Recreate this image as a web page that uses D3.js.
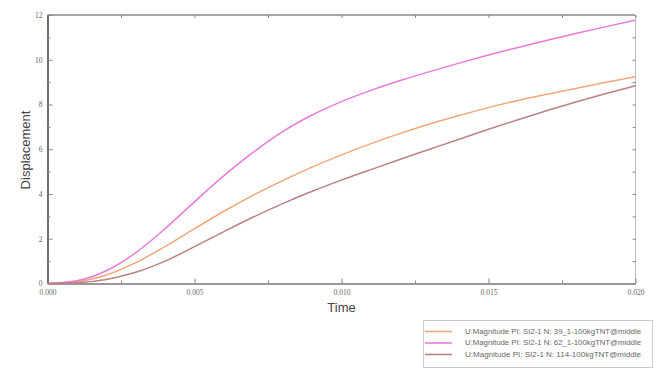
<!DOCTYPE html>
<html><head><meta charset="utf-8">
<script src="https://cdn.jsdelivr.net/npm/d3@7"></script>
<style>body{margin:0;background:#fff}svg{display:block}</style>
</head><body>
<svg id="c" width="656" height="370"></svg>
<script>
const times = [0,0.001,0.002,0.003,0.004,0.005,0.006,0.007,0.008,0.009,0.010,0.011,0.012,0.013,0.014,0.015,0.016,0.017,0.018,0.019,0.020];
const node39 = [0,0.08,0.38,0.93,1.65,2.45,3.23,3.95,4.6,5.2,5.75,6.25,6.71,7.13,7.51,7.86,8.18,8.46,8.73,8.99,9.24];
const node62 = [0,0.12,0.57,1.37,2.45,3.65,4.82,5.87,6.79,7.53,8.13,8.63,9.07,9.47,9.85,10.21,10.55,10.87,11.18,11.48,11.77];
const node114 = [0,0.03,0.18,0.5,1.0,1.65,2.32,2.97,3.57,4.12,4.62,5.09,5.55,6.0,6.45,6.89,7.32,7.73,8.12,8.49,8.84];
const seriesNames = ["U:Magnitude PI: SI2-1 N: 39_1-100kgTNT@middle","U:Magnitude PI: SI2-1 N: 62_1-100kgTNT@middle","U:Magnitude PI: SI2-1 N: 114-100kgTNT@middle"];
const colors = ["#f0a87a","#e87ad8","#b88282"];
const xTicks = [0,0.005,0.010,0.015,0.020];
const yTicks = [0,2,4,6,8,10,12];

const svg = d3.select("#c");
const L=47.5, R=635.5, T=15, B=283.5;
const x = d3.scaleLinear().domain([0,0.020]).range([L,R]);
const y = d3.scaleLinear().domain([0,12]).range([B,T]);

// frame
svg.append("line").attr("x1",L).attr("x2",R).attr("y1",T).attr("y2",T).attr("stroke","#888").attr("stroke-width",1.5);
svg.append("line").attr("x1",R).attr("x2",R).attr("y1",T).attr("y2",B).attr("stroke","#bbb").attr("stroke-width",1);

const ax = svg.append("g").attr("transform",`translate(0,${B})`)
  .call(d3.axisBottom(x).tickValues(xTicks).tickFormat(d3.format(".3f")).tickSizeInner(-5).tickSizeOuter(0).tickPadding(6));
const axm = svg.append("g").attr("transform",`translate(0,${B})`)
  .call(d3.axisBottom(x).tickValues([0.0025,0.0075,0.0125,0.0175]).tickFormat("").tickSizeInner(-3).tickSizeOuter(0));
const at = svg.append("g").attr("transform",`translate(0,${T})`)
  .call(d3.axisTop(x).tickValues(xTicks.concat([0.0025,0.0075,0.0125,0.0175])).tickFormat("").tickSizeInner(-3).tickSizeOuter(0));
const ay = svg.append("g").attr("transform",`translate(${L},0)`)
  .call(d3.axisLeft(y).tickValues(yTicks).tickFormat(d3.format("d")).tickSizeInner(-5).tickSizeOuter(0).tickPadding(5));
const aym = svg.append("g").attr("transform",`translate(${L},0)`)
  .call(d3.axisLeft(y).tickValues([1,3,5,7,9,11]).tickFormat("").tickSizeInner(-3).tickSizeOuter(0));
const ar = svg.append("g").attr("transform",`translate(${R},0)`)
  .call(d3.axisRight(y).tickValues([1,2,3,4,5,6,7,8,9,10,11]).tickFormat("").tickSizeInner(-3).tickSizeOuter(0));
[ax,axm,at,ay,aym,ar].forEach(g=>{
  g.select(".domain").attr("stroke","#777");
  g.selectAll(".tick line").attr("stroke","#888");
  g.selectAll("text").attr("fill","#666").attr("font-family","Liberation Serif").attr("font-size",7.5);
});
at.select(".domain").remove(); ar.select(".domain").remove();
ay.select(".domain").attr("stroke","#555").attr("stroke-width",1.8);

// lines
const line = d3.line().x((d,i)=>x(times[i])).y(d=>y(d)).curve(d3.curveMonotoneX);
[node39,node62,node114].forEach((s,k)=>{
  svg.append("path").datum(s).attr("d",line).attr("fill","none").attr("stroke",colors[k]).attr("stroke-width",1.5);
});

// titles
svg.append("text").attr("x",(L+R)/2).attr("y",312).attr("text-anchor","middle")
  .attr("font-family","Liberation Sans").attr("font-size",13).attr("fill","#444").text("Time");
svg.append("text").attr("transform","translate(30,150) rotate(-90)").attr("text-anchor","middle")
  .attr("font-family","Liberation Sans").attr("font-size",13).attr("fill","#444").text("Displacement");

// legend
const lg = svg.append("g");
lg.append("rect").attr("x",423.5).attr("y",320.5).attr("width",229).attr("height",47).attr("fill","#fff").attr("stroke","#ccc");
seriesNames.forEach((n,k)=>{
  const yy = 331.5 + k*11.5;
  lg.append("line").attr("x1",425).attr("x2",452).attr("y1",yy).attr("y2",yy).attr("stroke",colors[k]).attr("stroke-width",1.6);
  lg.append("text").attr("x",465).attr("y",yy+2.4).attr("font-family","Liberation Sans").attr("font-size",7.2)
    .attr("textLength",176).attr("lengthAdjust","spacingAndGlyphs").attr("fill","#666").text(n);
});
</script>
</body></html>
